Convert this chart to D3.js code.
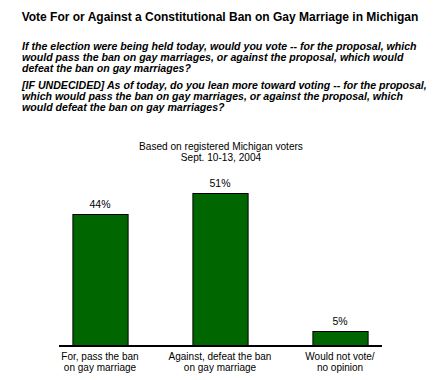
<!DOCTYPE html>
<html><head><meta charset="utf-8">
<script src="https://cdn.jsdelivr.net/npm/d3@7"></script>
<style>body{margin:0;background:#fff}svg{display:block}text{font-family:"Liberation Sans",Arial,sans-serif;fill:#000}</style>
</head><body><svg id="c" width="440" height="380"></svg>
<script>
const title = "Vote For or Against a Constitutional Ban on Gay Marriage in Michigan";
const question1 = ["If the election were being held today, would you vote -- for the proposal, which",
  "would pass the ban on gay marriages, or against the proposal, which would",
  "defeat the ban on gay marriages?"];
const question2 = ["[IF UNDECIDED] As of today, do you lean more toward voting -- for the proposal,",
  "which would pass the ban on gay marriages, or against the proposal, which",
  "would defeat the ban on gay marriages?"];
const subtitle = ["Based on registered Michigan voters", "Sept. 10-13, 2004"];
const categories = ["For, pass the ban|on gay marriage", "Against, defeat the ban|on gay marriage", "Would not vote/|no opinion"];
const values = [44, 51, 5];

const svg = d3.select("#c");
svg.append("text").attr("x", 220).attr("y", 21).attr("text-anchor", "middle")
  .style("font-weight", "bold").style("font-size", "12px").text(title);

// fit paragraph font so that first line spans ~395px as in reference
const probe = svg.append("text").style("font-weight", "bold").style("font-style", "italic")
  .style("font-size", "12px").text(question1[0]);
const w = probe.node().getComputedTextLength();
probe.remove();
const pfs = 12 * 395 / w;

function para(lines, y0) {
  lines.forEach((l, i) => svg.append("text").attr("x", 22).attr("y", y0 + i * 10.8)
    .style("font-weight", "bold").style("font-style", "italic").style("font-size", pfs + "px").text(l));
}
para(question1, 50);
para(question2, 89);

subtitle.forEach((s, i) => svg.append("text").attr("x", 221).attr("y", 150 + i * 11)
  .attr("text-anchor", "middle").style("font-size", "10.1px").text(s));

const x = d3.scaleBand().domain(categories).range([40, 400]).paddingInner(0.54).paddingOuter(0.27);
const y = d3.scaleLinear().domain([0, 60]).range([346, 166]);

svg.selectAll("rect.bar").data(values).join("rect").attr("class", "bar")
  .attr("x", (d, i) => x(categories[i]) + 0.5).attr("width", x.bandwidth())
  .attr("y", d => y(d) + 0.5).attr("height", d => y(0) - y(d))
  .attr("fill", "#006600").attr("stroke", "#000").attr("stroke-width", 1);

svg.selectAll("text.val").data(values).join("text").attr("class", "val")
  .attr("x", (d, i) => x(categories[i]) + x.bandwidth() / 2).attr("y", d => y(d) - 6)
  .attr("text-anchor", "middle").style("font-size", "10.5px").text(d => d + "%");

svg.append("line").attr("x1", 59).attr("x2", 382).attr("y1", 346).attr("y2", 346)
  .attr("stroke", "#000").attr("stroke-width", 2);

categories.forEach(c => {
  const parts = c.split("|");
  parts.forEach((p, j) => svg.append("text").attr("x", x(c) + x.bandwidth() / 2).attr("y", 360 + j * 10.5)
    .attr("text-anchor", "middle").style("font-size", "10px").text(p));
});
</script></body></html>
